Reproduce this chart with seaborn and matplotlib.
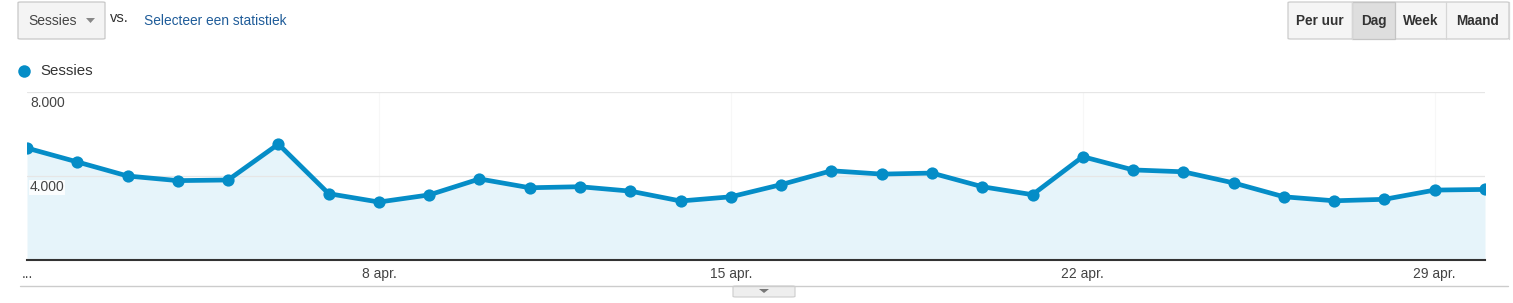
import numpy as np
import pandas as pd
import matplotlib
matplotlib.use("Agg")
import matplotlib.pyplot as plt
from matplotlib.patches import FancyBboxPatch, Rectangle, Polygon
from matplotlib.lines import Line2D
import matplotlib.transforms as mtransforms
import seaborn as sns

# ---- data ----
days = list(range(1, 31))
sessions = [5330, 4670, 4000, 3780, 3810, 5520, 3160, 2760, 3100, 3860,
            3440, 3490, 3280, 2810, 3010, 3590, 4250, 4090, 4140, 3490,
            3110, 4920, 4290, 4200, 3670, 3010, 2820, 2890, 3330, 3360]
tick_days = [1, 8, 15, 22, 29]
tick_labels = ["...", "8 apr.", "15 apr.", "22 apr.", "29 apr."]
y_ticks = [4000, 8000]
y_tick_labels = ["4.000", "8.000"]
series_name = "Sessies"

df = pd.DataFrame({"dag": days, "sessies": sessions})

W, H = 1513, 303
sns.set_style("white")
plt.rcParams["font.family"] = ["Liberation Sans", "DejaVu Sans"]

LINE = "#058dc7"
FILL = "#e6f4fa"

fig = plt.figure(figsize=(W / 100, H / 100), dpi=100)
fig.patch.set_facecolor("white")

def fx(x):
    return x / W

def fy(y):
    return 1 - y / H

left, right, top, bottom = 27, 1485, 92, 260
ax = fig.add_axes([fx(left), fy(bottom), fx(right) - fx(left), fy(top) - fy(bottom)])
ax.set_facecolor("none")

ax.fill_between(df["dag"], 0, df["sessies"], color=FILL, zorder=1, linewidth=0)
for t in y_ticks:
    ax.axhline(t, color="#e6e6e6", linewidth=0.9, zorder=1.5)
for d in tick_days[1:]:
    ax.axvline(d, color="#f7f7f7", linewidth=0.8, zorder=0.5)
sns.lineplot(data=df, x="dag", y="sessies", ax=ax, color=LINE, linewidth=3.4,
             marker="o", markersize=8.8, markeredgewidth=0, zorder=3)

ax.set_xlim(days[0], days[-1])
ax.set_ylim(0, 8000)
ax.set_yticks([])
ax.set_xticks(tick_days)
ax.set_xticklabels(tick_labels, fontsize=10, color="#444444")
ax.tick_params(axis="x", length=0, pad=5)
ax.set_xlabel("")
ax.set_ylabel("")
for s in ["top", "left", "right"]:
    ax.spines[s].set_visible(False)
ax.spines["bottom"].set_color("#333333")
ax.spines["bottom"].set_linewidth(1.5)
ax.spines["bottom"].set_zorder(4)

trans = mtransforms.blended_transform_factory(ax.transAxes, ax.transData)
for t, lab in zip(y_ticks, y_tick_labels):
    ax.text(0.002, t - 200, lab, transform=trans, ha="left", va="top",
            fontsize=10, color="#444444", zorder=2,
            bbox=dict(facecolor="white", edgecolor="none", pad=0.5, alpha=0.85))

# ---- bottom line & tab ----
fig.add_artist(Line2D([fx(20), fx(1508)], [fy(286), fy(286)], color="#cccccc", linewidth=1.0))
fig.add_artist(FancyBboxPatch((fx(733), fy(297)), fx(62), 11 / H,
                              boxstyle="round,pad=0,rounding_size=0.002",
                              facecolor="#eeeeee", edgecolor="#cccccc", linewidth=0.8))
fig.add_artist(Polygon([[fx(759), fy(289)], [fx(769), fy(289)], [fx(764), fy(293)]],
                       closed=True, facecolor="#777777", edgecolor="none"))

# ---- top controls ----
fig.add_artist(FancyBboxPatch((fx(18), fy(39)), fx(87), 37 / H,
                              boxstyle="round,pad=0,rounding_size=0.002",
                              facecolor="#f4f4f4", edgecolor="#c8c8c8", linewidth=0.9))
fig.text(fx(28), fy(21), "Sessies", fontsize=10, color="#444444", va="center", ha="left")
fig.add_artist(Polygon([[fx(86), fy(18)], [fx(95), fy(18)], [fx(90.5), fy(23)]],
                       closed=True, facecolor="#888888", edgecolor="none"))
fig.text(fx(110), fy(18), "vs.", fontsize=10.5, color="#333333", va="center", ha="left")
fig.text(fx(144), fy(21), "Selecteer een statistiek", fontsize=9.9, color="#1f5c99",
         va="center", ha="left")

# segmented buttons
segs = [("Per uur", 1288, 1352, False), ("Dag", 1352, 1395, True),
        ("Week", 1395, 1446, False), ("Maand", 1446, 1509, False)]
fig.add_artist(FancyBboxPatch((fx(1288), fy(39)), fx(1509 - 1288), 37 / H,
                              boxstyle="round,pad=0,rounding_size=0.002",
                              facecolor="#f5f5f5", edgecolor="#cccccc", linewidth=0.9))
for label, x0, x1, active in segs:
    if active:
        fig.add_artist(Rectangle((fx(x0), fy(39)), fx(x1 - x0), 37 / H,
                                 facecolor="#dedede", edgecolor="#c4c4c4", linewidth=0.9))
    else:
        fig.add_artist(Line2D([fx(x1), fx(x1)], [fy(39), fy(2)], color="#d6d6d6", linewidth=0.9))
    fig.text(fx((x0 + x1) / 2), fy(21), label, fontsize=9.8, fontweight="bold",
             color="#333333", ha="center", va="center")

# legend
fig.add_artist(Line2D([fx(24)], [fy(71)], marker="o", markersize=9, color=LINE,
                      markeredgewidth=0, linestyle="none"))
fig.text(fx(40), fy(71), series_name, fontsize=10.8, color="#333333", va="center", ha="left")

fig.savefig("out.png", dpi=100, facecolor="white")
